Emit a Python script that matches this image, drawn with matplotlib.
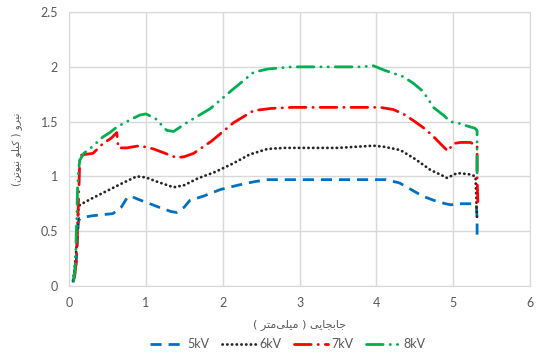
import matplotlib
matplotlib.use("Agg")
import matplotlib.pyplot as plt

# ---------------- data ----------------
x5 = [0.05, 0.07, 0.09, 0.10, 0.11, 0.12, 0.14, 0.3, 0.57, 0.68, 0.75, 0.8, 0.9, 1.05, 1.2, 1.32, 1.4, 1.5, 1.57, 1.75, 1.97, 2.2, 2.4, 2.58, 3.0, 3.5, 4.0, 4.12, 4.3, 4.45, 4.6, 4.75, 4.9, 4.97, 5.1, 5.25, 5.3, 5.31, 5.31]
y5 = [0.03, 0.10, 0.20, 0.30, 0.45, 0.58, 0.62, 0.64, 0.66, 0.72, 0.80, 0.82, 0.79, 0.75, 0.71, 0.68, 0.67, 0.72, 0.78, 0.82, 0.88, 0.92, 0.95, 0.97, 0.97, 0.97, 0.97, 0.97, 0.94, 0.88, 0.82, 0.78, 0.75, 0.74, 0.75, 0.75, 0.75, 0.60, 0.45]

x6 = [0.05, 0.07, 0.09, 0.11, 0.12, 0.14, 0.3, 0.5, 0.7, 0.88, 1.0, 1.15, 1.36, 1.5, 1.67, 1.9, 2.14, 2.35, 2.58, 2.8, 3.0, 3.5, 3.96, 4.1, 4.31, 4.5, 4.7, 4.85, 4.92, 5.05, 5.2, 5.29, 5.3, 5.31]
y6 = [0.05, 0.15, 0.30, 0.50, 0.70, 0.74, 0.80, 0.87, 0.94, 1.00, 0.99, 0.95, 0.90, 0.92, 0.98, 1.04, 1.12, 1.20, 1.25, 1.26, 1.26, 1.26, 1.28, 1.27, 1.24, 1.16, 1.06, 1.01, 0.985, 1.03, 1.02, 1.00, 0.80, 0.60]

x7 = [0.07, 0.09, 0.10, 0.11, 0.12, 0.13, 0.14, 0.2, 0.31, 0.44, 0.55, 0.62, 0.64, 0.75, 0.92, 1.1, 1.25, 1.4, 1.5, 1.62, 1.85, 2.14, 2.4, 2.62, 2.9, 3.3, 3.7, 4.05, 4.22, 4.35, 4.48, 4.6, 4.72, 4.83, 4.93, 5.0, 5.1, 5.22, 5.31, 5.31, 5.32]
y7 = [0.08, 0.20, 0.35, 0.55, 0.75, 0.95, 1.19, 1.20, 1.21, 1.30, 1.35, 1.40, 1.26, 1.26, 1.28, 1.25, 1.21, 1.17, 1.18, 1.21, 1.32, 1.49, 1.60, 1.62, 1.63, 1.63, 1.63, 1.63, 1.61, 1.57, 1.51, 1.45, 1.38, 1.30, 1.23, 1.30, 1.31, 1.31, 1.28, 1.00, 0.76]

x8 = [0.06, 0.08, 0.09, 0.10, 0.11, 0.12, 0.14, 0.19, 0.3, 0.44, 0.53, 0.62, 0.75, 0.92, 1.0, 1.12, 1.27, 1.36, 1.53, 1.84, 2.14, 2.4, 2.58, 2.9, 3.2, 3.5, 3.8, 3.96, 4.1, 4.35, 4.48, 4.6, 4.67, 4.74, 4.87, 4.96, 5.1, 5.18, 5.28, 5.31, 5.31]
y8 = [0.05, 0.20, 0.40, 0.65, 0.90, 1.05, 1.15, 1.21, 1.27, 1.36, 1.40, 1.45, 1.50, 1.56, 1.57, 1.53, 1.42, 1.41, 1.49, 1.62, 1.80, 1.95, 1.98, 2.00, 2.00, 2.00, 2.00, 2.01, 1.97, 1.91, 1.85, 1.78, 1.71, 1.63, 1.56, 1.50, 1.48, 1.46, 1.44, 1.42, 0.97]

series_labels = ["5kV", "6kV", "7kV", "8kV"]
x_ticks = [0, 1, 2, 3, 4, 5, 6]
y_ticks = [0, 0.5, 1, 1.5, 2, 2.5]
y_tick_labels = ["0", "0.5", "1", "1.5", "2", "2.5"]
x_title = "جابجایی ( میلی\u200cمتر )"
y_title = "نیرو ( کیلو نیوتن)"

# ------------- simple Persian shaping (presentation forms, visual order) -------------
FORMS = {
    "\u0627": ("\uFE8D", "\uFE8E", None, None),
    "\u0628": ("\uFE8F", "\uFE90", "\uFE91", "\uFE92"),
    "\u062A": ("\uFE95", "\uFE96", "\uFE97", "\uFE98"),
    "\u062C": ("\uFE9D", "\uFE9E", "\uFE9F", "\uFEA0"),
    "\u0631": ("\uFEAD", "\uFEAE", None, None),
    "\u06A9": ("\uFB8E", "\uFB8F", "\uFB90", "\uFB91"),
    "\u0644": ("\uFEDD", "\uFEDE", "\uFEDF", "\uFEE0"),
    "\u0645": ("\uFEE1", "\uFEE2", "\uFEE3", "\uFEE4"),
    "\u0646": ("\uFEE5", "\uFEE6", "\uFEE7", "\uFEE8"),
    "\u0648": ("\uFEED", "\uFEEE", None, None),
    "\u06CC": ("\uFBFC", "\uFBFD", "\uFBFE", "\uFBFF"),
}
MIRROR = {"(": ")", ")": "("}


def shape(s):
    out = []
    for i, c in enumerate(s):
        if c not in FORMS:
            if c != "\u200c":
                out.append(c)
            continue
        prev = s[i - 1] if i > 0 else None
        nxt = s[i + 1] if i + 1 < len(s) else None
        jp = prev in FORMS and FORMS[prev][2] is not None
        jn = FORMS[c][2] is not None and nxt in FORMS
        iso, fin, ini, med = FORMS[c]
        if jp and jn:
            out.append(med)
        elif jp:
            out.append(fin)
        elif jn:
            out.append(ini)
        else:
            out.append(iso)
    return "".join(MIRROR.get(ch, ch) for ch in reversed(out))


# ---------------- plot ----------------
plt.rcParams["font.family"] = ["Lato", "DejaVu Sans"]
fig = plt.figure(figsize=(5.36, 3.56), dpi=100)
ax = fig.add_axes([0.129, 0.197, 0.860, 0.769])

lw = 2.0
styles = [
    dict(color="#0070C0", linestyle=(0, (4, 2.5)), dash_capstyle="butt"),
    dict(color="#262626", linestyle=(0, (0.1, 1.6)), dash_capstyle="round"),
    dict(color="#FF0000", linestyle=(0, (6, 2.5, 0.1, 2.5)), dash_capstyle="round"),
    dict(color="#00B050", linestyle=(0, (6, 2.5, 0.1, 2.5, 0.1, 2.5)), dash_capstyle="round"),
]
data = [(x5, y5), (x6, y6), (x7, y7), (x8, y8)]
handles = []
for (xs, ys), st, lab in zip(data, styles, series_labels):
    ln, = ax.plot(xs, ys, lw=lw, label=lab, zorder=3, **st)
    handles.append(ln)

ax.set_xlim(0, 6)
ax.set_ylim(0, 2.5)
ax.set_xticks(x_ticks)
ax.set_yticks(y_ticks)
ax.set_yticklabels(y_tick_labels)
ax.grid(True, color="#D9D9D9", linewidth=1.0, zorder=0)
for sp in ax.spines.values():
    sp.set_color("#D9D9D9")
ax.tick_params(length=0, labelsize=9, colors="#595959", pad=8)

ax.set_xlabel(shape(x_title), family=["DejaVu Sans"], fontsize=8, color="#595959", labelpad=7)
ax.set_ylabel(shape(y_title), family=["DejaVu Sans"], fontsize=7.5, color="#595959", labelpad=13)

fig.legend(handles=handles, labels=series_labels, loc="lower center",
           bbox_to_anchor=(0.537, -0.015), ncol=4, frameon=False,
           fontsize=9, labelcolor="#595959", handlelength=2.7,
           handletextpad=0.3, columnspacing=1.0)

fig.savefig("out.png", dpi=100)
